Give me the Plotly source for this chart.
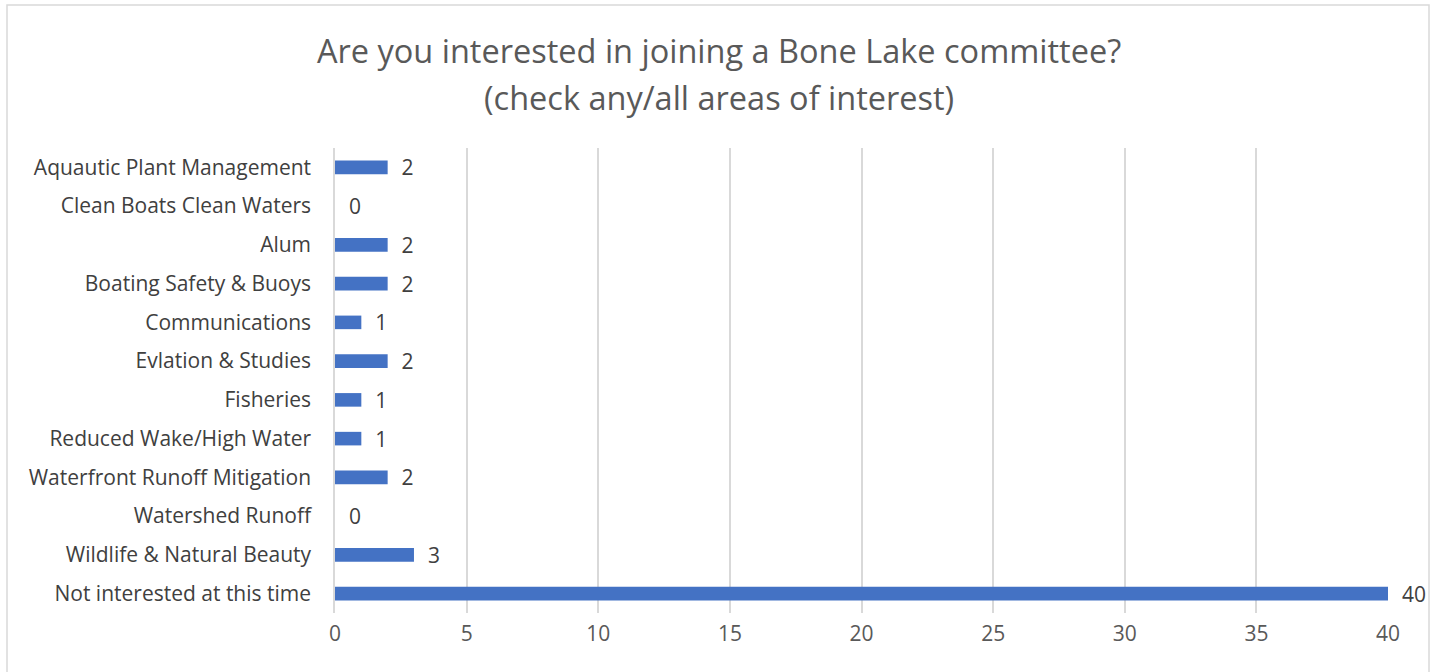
import plotly.graph_objects as go

categories = [
    "Aquautic Plant Management",
    "Clean Boats Clean Waters",
    "Alum",
    "Boating Safety & Buoys",
    "Communications",
    "Evlation & Studies",
    "Fisheries",
    "Reduced Wake/High Water",
    "Waterfront Runoff Mitigation",
    "Watershed Runoff",
    "Wildlife & Natural Beauty",
    "Not interested at this time",
]
values = [2, 0, 2, 2, 1, 2, 1, 1, 2, 0, 3, 40]
x_ticks = [0, 5, 10, 15, 20, 25, 30, 35, 40]
title_lines = [
    "Are you interested in joining a Bone Lake committee?",
    "(check any/all areas of interest)",
]

FONT = "Open Sans, Noto Sans, sans-serif"

fig = go.Figure(
    go.Bar(
        y=categories,
        x=values,
        orientation="h",
        marker=dict(color="#4472C4", line=dict(width=0)),
        text=["\u00a0\u00a0" + str(v) for v in values],
        textposition="outside",
        constraintext="none",
        cliponaxis=False,
        textfont=dict(family=FONT, size=21, color="#404040"),
        hoverinfo="skip",
    )
)

W, H = 1439, 672
ml, mr, mt, mb = 335, 51, 148, 59
pw, ph = W - ml - mr, H - mt - mb

def px_x(p):
    return (p - ml) / pw

def px_y(p):
    return (H - mb - p) / ph

fig.add_shape(
    type="rect", xref="paper", yref="paper",
    x0=px_x(7), x1=px_x(1429), y0=px_y(690), y1=px_y(5),
    line=dict(color="#D9D9D9", width=1.5), fillcolor="rgba(0,0,0,0)", layer="below",
)

for line, yc in zip(title_lines, [50, 97]):
    fig.add_annotation(
        text=line, xref="paper", yref="paper",
        x=px_x(719), y=px_y(yc), xanchor="center", yanchor="middle",
        showarrow=False, font=dict(family=FONT, size=32.5, color="#595959"),
    )

fig.update_layout(
    width=W, height=H,
    margin=dict(l=ml, r=mr, t=mt, b=mb),
    paper_bgcolor="white", plot_bgcolor="white",
    bargap=0.65,
    showlegend=False,
    font=dict(family=FONT, color="#595959"),
)
fig.update_xaxes(
    range=[0, 40], tickvals=x_ticks, ticktext=[str(t) for t in x_ticks],
    showgrid=True, gridcolor="#D9D9D9", gridwidth=1.5,
    zeroline=False, showline=False, ticks="",
    tickfont=dict(family=FONT, size=21, color="#595959"),
    ticklabelstandoff=6,
)
fig.update_yaxes(
    autorange="reversed", showgrid=False, zeroline=False,
    showline=True, linecolor="#D9D9D9", linewidth=1.5, ticks="",
    tickfont=dict(family=FONT, size=21, color="#404040"),
    ticklabelstandoff=18,
)

fig.write_html(
    "out.html",
    config={"displayModeBar": False},
    post_script="document.body.style.margin='0';document.body.style.overflow='hidden';",
)
